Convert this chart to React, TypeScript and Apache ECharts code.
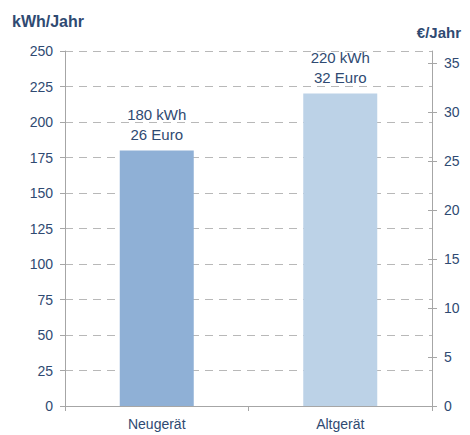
import React, { useEffect, useRef } from "react";
import * as echarts from "echarts";

const categories = ["Neugerät", "Altgerät"];
const kwhValues = [180, 220];
const euroValues = [26, 32];
const leftTicks = [0, 25, 50, 75, 100, 125, 150, 175, 200, 225, 250];
const rightTicks = [0, 5, 10, 15, 20, 25, 30, 35];
const barColors = ["#8fb0d6", "#bcd2e7"];

const TEXT = "#2f4a72";
const AXIS = "#a6a6a6";
const FONT = "Liberation Sans, Arial, sans-serif";

export default function App() {
  const ref = useRef<HTMLDivElement>(null);
  useEffect(() => {
    if (!ref.current) return;
    const chart = echarts.init(ref.current, null, { renderer: "svg" });
    const rightMax = 36.2;
    chart.setOption({
      animation: false,
      textStyle: { fontFamily: FONT },
      grid: { left: 65, right: 38, top: 51, bottom: 29, containLabel: false },
      graphic: [
        { type: "text", left: 12, top: 13, style: { text: "kWh/Jahr", font: "bold 16px " + FONT, fill: TEXT } },
        { type: "text", right: 9, top: 25, style: { text: "€/Jahr", font: "bold 15px " + FONT, fill: TEXT } },
      ],
      xAxis: {
        type: "category",
        data: categories,
        axisLine: { lineStyle: { color: AXIS, width: 1 } },
        axisTick: { show: true, length: 5, lineStyle: { color: AXIS } },
        axisLabel: { color: TEXT, fontSize: 14, margin: 11, fontFamily: FONT },
      },
      yAxis: [
        {
          type: "value",
          min: 0,
          max: 250,
          interval: 25,
          position: "left",
          axisLine: { show: true, lineStyle: { color: AXIS } },
          axisTick: { show: true, length: 5, lineStyle: { color: AXIS } },
          axisLabel: { color: TEXT, fontSize: 14, margin: 12, fontFamily: FONT, customValues: leftTicks },
          splitLine: { show: true, lineStyle: { color: "#b8b8b8", type: [8, 6], width: 1 } },
        },
        {
          type: "value",
          min: 0,
          max: rightMax,
          position: "right",
          axisLine: { show: true, lineStyle: { color: AXIS } },
          axisTick: { show: true, length: 5, lineStyle: { color: AXIS }, customValues: rightTicks },
          axisLabel: { color: TEXT, fontSize: 14, margin: 12, fontFamily: FONT, customValues: rightTicks },
          splitLine: { show: false },
        },
        {
          type: "value",
          min: 0,
          max: rightMax,
          position: "right",
          axisLine: { show: false },
          axisTick: { show: true, inside: true, length: 4, lineStyle: { color: AXIS }, customValues: rightTicks },
          axisLabel: { show: false },
          splitLine: { show: false },
        },
      ],
      series: [
        {
          type: "bar",
          yAxisIndex: 0,
          barWidth: 74,
          data: kwhValues.map((v, i) => ({ value: v, itemStyle: { color: barColors[i] } })),
          label: {
            show: true,
            position: "top",
            distance: 6,
            color: TEXT,
            fontSize: 15,
            lineHeight: 20,
            fontFamily: FONT,
            formatter: (p: any) => `${p.value} kWh\n${euroValues[p.dataIndex]} Euro`,
          },
        },
      ],
    });
    return () => chart.dispose();
  }, []);
  return <div ref={ref} style={{ width: 470, height: 435, position: "absolute", left: 0, top: 0 }} />;
}
